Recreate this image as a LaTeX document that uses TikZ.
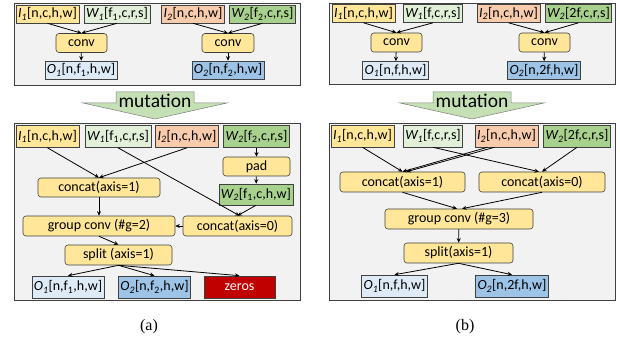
\documentclass[tikz,border=0pt]{standalone}
\usepackage{fontspec}
\setmainfont{Carlito}
\newfontfamily\capfont{Liberation Serif}
\usetikzlibrary{arrows.meta}

\definecolor{inyellow}{HTML}{FFE699}
\definecolor{wlight}{HTML}{E2F0D9}
\definecolor{inpeach}{HTML}{F8CBAD}
\definecolor{wgreen}{HTML}{A9D18E}
\definecolor{outlight}{HTML}{DEEBF7}
\definecolor{outblue}{HTML}{9DC3E6}
\definecolor{zerored}{HTML}{C00000}
\definecolor{panelfill}{HTML}{F2F2F2}
\definecolor{edgegray}{HTML}{404040}
\definecolor{mutgreen}{HTML}{C5E0B4}

\newcommand{\tenI}[1]{\textit{I\textsubscript{#1}}}
\newcommand{\tenW}[1]{\textit{W\textsubscript{#1}}}
\newcommand{\tenO}[1]{\textit{O\textsubscript{#1}}}
\newcommand{\fsub}[1]{f\textsubscript{#1}}

\begin{document}
\begin{tikzpicture}[x=1pt, y=-1pt, font=\fontsize{14}{16}\selectfont,
    tensor/.style={draw=edgegray, line width=0.6pt, inner xsep=2pt, inner ysep=0pt, minimum height=#1},
    tensor/.default=18pt,
    op/.style={draw=edgegray, line width=0.6pt, fill=inyellow, rounded corners=3pt,
      inner sep=0pt, minimum height=19pt},
    flow/.style={-{Stealth[length=4.5pt,width=4pt]}, line width=0.8pt},
    panel/.style={draw=edgegray, fill=panelfill, line width=0.8pt},
    mutarrow/.style={draw=gray, fill=mutgreen, line width=0.5pt}]
    \useasboundingbox (0,0) rectangle (620,344);

    % panels
    \foreach \x/\y/\h in {14/3/82, 14/123/177, 329/3/81, 329/123/177} {
      \draw[panel] (\x,\y) rectangle ++(286,\h);
    }

    % mutation arrows
    \foreach \cx in {155,472} {
      \filldraw[mutarrow] (\cx-39,92) -- (\cx+39,92) -- (\cx+39,103) -- (\cx+72,103)
        -- (\cx,119) -- (\cx-72,103) -- (\cx-39,103) -- cycle;
      \node[font=\fontsize{19.5}{21}\selectfont] (mut\cx) at (\cx,101) {mutation};
    }

    % (a) before
    \node[tensor, fill=inyellow] (I1a) at (47.5,14) {\tenI{1}[n,c,h,w]};
    \node[tensor, fill=wlight]   (W1a) at (117,14) {\tenW{1}[\fsub{1},c,r,s]};
    \node[tensor, fill=inpeach]  (I2a) at (193,14) {\tenI{2}[n,c,h,w]};
    \node[tensor, fill=wgreen]   (W2a) at (262.5,14) {\tenW{2}[\fsub{2},c,r,s]};
    \node[op, minimum width=51pt] (conv1a) at (81.5,43) {conv};
    \node[op, minimum width=52pt] (conv2a) at (228,43) {conv};
    \node[tensor, fill=outlight] (O1a) at (81,70) {\tenO{1}[n,\fsub{1},h,w]};
    \node[tensor, fill=outblue]  (O2a) at (228,70) {\tenO{2}[n,\fsub{2},h,w]};

    \draw[flow] (I1a.south) -- (conv1a.north);
    \draw[flow] (W1a.south) -- (conv1a.north);
    \draw[flow] (I2a.south) -- (conv2a.north);
    \draw[flow] (W2a.south) -- (conv2a.north);
    \draw[flow] (conv1a) -- (O1a);
    \draw[flow] (conv2a) -- (O2a);

    % (a) after
    \node[tensor=22pt, fill=inyellow] (I1b) at (47.5,136.5) {\tenI{1}[n,c,h,w]};
    \node[tensor=22pt, fill=wlight]   (W1b) at (118,136.5) {\tenW{1}[\fsub{1},c,r,s]};
    \node[tensor=22pt, fill=inpeach]  (I2b) at (187,136.5) {\tenI{2}[n,c,h,w]};
    \node[tensor=22pt, fill=wgreen]   (W2b) at (256.5,136.5) {\tenW{2}[\fsub{2},c,r,s]};
    \node[op, minimum width=67pt] (pad) at (256.5,166.5) {pad};
    \node[tensor=21pt, fill=wgreen]   (W2p) at (256,194.5) {\tenW{2}[\fsub{1},c,h,w]};
    \node[op, minimum width=122pt] (cat1a) at (99,187.5) {concat(axis=1)};
    \node[op, minimum width=109pt, minimum height=20pt] (cat0a) at (237.5,226) {concat(axis=0)};
    \node[op, minimum width=152pt, minimum height=20pt] (gconva) at (99,226) {group conv (\#g=2)};
    \node[op, minimum width=107pt, minimum height=20pt] (splita) at (118.5,255) {split (axis=1)};
    \node[tensor=22pt, fill=outlight] (O1b) at (68,287) {\tenO{1}[n,\fsub{1},h,w]};
    \node[tensor=22pt, fill=outblue]  (O2b) at (154.5,287) {\tenO{2}[n,\fsub{2},h,w]};
    \node[tensor=22pt, fill=zerored, text=white, minimum width=71pt] (zeros) at (239.5,287) {zeros};

    \draw[flow] (I1b.south) -- (cat1a.north);
    \draw[flow] (I2b.south) -- (cat1a.north);
    \draw[flow] (W1b.south) -- ([xshift=2pt]cat0a.north);
    \draw[flow] (W2b) -- (pad);
    \draw[flow] (pad) -- (W2p);
    \draw[flow] (W2p.south) -- (cat0a.north);
    \draw[flow] (cat1a) -- (gconva);
    \draw[flow] (cat0a) -- (gconva);
    \draw[flow] (gconva.south) -- (splita.north);
    \draw[flow] (splita.south) -- (O1b.north);
    \draw[flow] (splita.south) -- (O2b.north);
    \draw[flow] (splita.south) -- (zeros.north);

    % (b) before
    \node[tensor, fill=inyellow] (I1c) at (363.5,13.5) {\tenI{1}[n,c,h,w]};
    \node[tensor, fill=wlight]   (W1c) at (433,13.5) {\tenW{1}[f,c,r,s]};
    \node[tensor, fill=inpeach]  (I2c) at (508.5,13.5) {\tenI{2}[n,c,h,w]};
    \node[tensor, fill=wgreen]   (W2c) at (578.5,13.5) {\tenW{2}[2f,c,r,s]};
    \node[op, minimum width=51pt] (conv1c) at (396.5,42.5) {conv};
    \node[op, minimum width=51pt] (conv2c) at (544.5,42.5) {conv};
    \node[tensor, fill=outlight] (O1c) at (395.5,70.5) {\tenO{1}[n,f,h,w]};
    \node[tensor, fill=outblue]  (O2c) at (544,70.5) {\tenO{2}[n,2f,h,w]};

    \draw[flow] (I1c.south) -- (conv1c.north);
    \draw[flow] (W1c.south) -- (conv1c.north);
    \draw[flow] (I2c.south) -- (conv2c.north);
    \draw[flow] (W2c.south) -- (conv2c.north);
    \draw[flow] (conv1c) -- (O1c);
    \draw[flow] (conv2c) -- (O2c);

    % (b) after
    \node[tensor=22pt, fill=inyellow] (I1d) at (362.5,136) {\tenI{1}[n,c,h,w]};
    \node[tensor=22pt, fill=wlight]   (W1d) at (433,136) {\tenW{1}[f,c,r,s]};
    \node[tensor=22pt, fill=inpeach]  (I2d) at (506.5,136) {\tenI{2}[n,c,h,w]};
    \node[tensor=22pt, fill=wgreen]   (W2d) at (577,136) {\tenW{2}[2f,c,r,s]};
    \node[op, minimum width=125pt, minimum height=20pt] (cat1b) at (402.5,182) {concat(axis=1)};
    \node[op, minimum width=126pt, minimum height=20pt] (cat0b) at (542,182) {concat(axis=0)};
    \node[op, minimum width=148pt, minimum height=20pt] (gconvb) at (459,219) {group conv (\#g=3)};
    \node[op, minimum width=109pt, minimum height=20pt] (splitb) at (458.5,253) {split(axis=1)};
    \node[tensor=22pt, fill=outlight] (O1d) at (394.5,286) {\tenO{1}[n,f,h,w]};
    \node[tensor=22pt, fill=outblue]  (O2d) at (512,286) {\tenO{2}[n,2f,h,w]};

    \draw[flow] (I1d.south) -- (cat1b.north);
    \draw[flow] ([xshift=-19pt]I2d.south) -- (cat1b.north);
    \draw[flow] ([xshift=-12pt]I2d.south) -- ([xshift=4pt]cat1b.north);
    \draw[flow] (W1d.south) -- ([xshift=-3pt]cat0b.north);
    \draw[flow] (W2d.south) -- (cat0b.north);
    \draw[flow] (cat1b.south) -- ([xshift=-2pt]gconvb.north);
    \draw[flow] (cat0b.south) -- ([xshift=3pt]gconvb.north);
    \draw[flow] (gconvb) -- (splitb);
    \draw[flow] (splitb.south) -- (O1d.north);
    \draw[flow] (splitb.south) -- (O2d.north);

    % captions
    \node[font=\capfont\fontsize{16}{18}\selectfont] (capa) at (149,327) {(a)};
    \node[font=\capfont\fontsize{16}{18}\selectfont] (capb) at (465,327) {(b)};
\end{tikzpicture}
\end{document}
